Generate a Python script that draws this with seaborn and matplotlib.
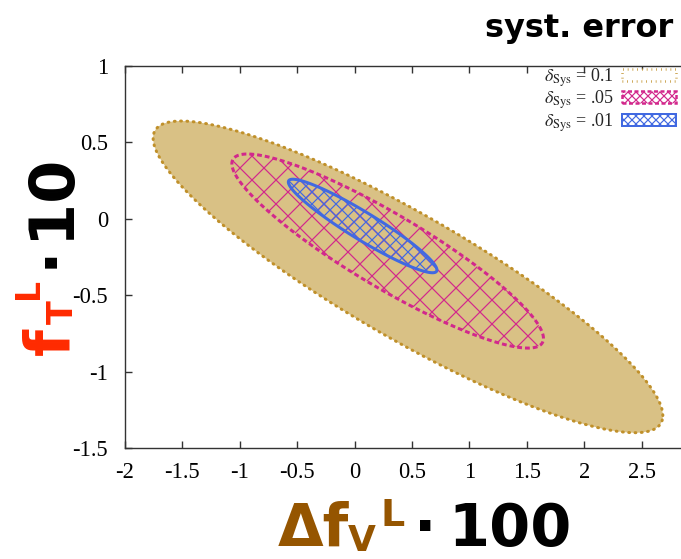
import numpy as np
import matplotlib
matplotlib.use("Agg")
import matplotlib.pyplot as plt
import seaborn as sns
from matplotlib.patches import Patch

# ellipse shapes (centre, half extent in x / y, tilt as correlation)
sys_labels = ['0.1', '.05', '.01']
center_x = [0.465, 0.288, 0.07]
center_y = [-0.38, -0.211, -0.047]
half_x = [2.22, 1.357, 0.647]
half_y = [1.02, 0.635, 0.306]
corr = [-0.89, -0.90, -0.94]

x_ticks = [-2, -1.5, -1, -0.5, 0, 0.5, 1, 1.5, 2, 2.5]
x_ticklabels = ['-2', '-1.5', '-1', '-0.5', '0', '0.5', '1', '1.5', '2', '2.5']
y_ticks = [-1.5, -1, -0.5, 0, 0.5, 1]
y_ticklabels = ['-1.5', '-1', '-0.5', '0', '0.5', '1']

tan = '#d9c185'
gold = '#c0902a'
pink = '#d2288c'
blue = '#4169e1'
brown = '#955500'
red = '#ff2a00'

# dpi 72 so that 1 pt == 1 px and the hatch tile is 72 px
W, H, DPI = 681, 559, 72

sns.set_theme(style='ticks')
plt.rcParams['font.family'] = ['Liberation Serif', 'DejaVu Serif']
plt.rcParams['hatch.linewidth'] = 1.2

fig = plt.figure(figsize=(W / DPI, H / DPI), dpi=DPI)
# the plot box runs on past the right edge of the picture (x = 3)
ax = fig.add_axes([125 / W, 111 / H, 574 / W, 382 / H])

t = np.linspace(0, 2 * np.pi, 400)


def ellipse(i):
    ex = center_x[i] + half_x[i] * np.cos(t)
    ey = center_y[i] + half_y[i] * (corr[i] * np.cos(t) + np.sqrt(1 - corr[i] ** 2) * np.sin(t))
    return ex, ey


# delta_sys = 0.1 : filled, dotted border
ex, ey = ellipse(0)
ax.fill(ex, ey, facecolor=tan, edgecolor='none', zorder=1)
sns.lineplot(x=ex, y=ey, sort=False, estimator=None, ax=ax, color=gold, lw=3,
             linestyle=(0, (0.3, 1.8)), dash_capstyle='round', zorder=2)

# delta_sys = .05 : cross hatch, dashed border
ex, ey = ellipse(1)
ax.fill(ex, ey, facecolor='none', edgecolor=pink, hatch='x', lw=3,
        linestyle=(0, (1.6, 1.0)), zorder=3)

# delta_sys = .01 : fine hatch, solid border
ex, ey = ellipse(2)
ax.fill(ex, ey, facecolor='none', edgecolor=blue, hatch='xx', lw=3, zorder=4)

ax.set_xlim(-2, 3)
ax.set_ylim(-1.5, 1)
ax.set_xticks(x_ticks)
ax.set_xticklabels(x_ticklabels)
ax.set_yticks(y_ticks)
ax.set_yticklabels(y_ticklabels)
ax.tick_params(direction='in', length=7, width=1.4, top=True, right=True,
               color='#333333', labelsize=22.5, labelcolor='black')
ax.tick_params(axis='x', pad=14)
ax.tick_params(axis='y', pad=17)
for s in ax.spines.values():
    s.set_color('#333333')
    s.set_linewidth(1.4)

# legend, gnuplot style (sample on the right)
handles = [
    Patch(facecolor='white', edgecolor=gold, lw=2.5, linestyle=(0, (0.3, 1.6)), capstyle='round'),
    Patch(facecolor='white', edgecolor=pink, lw=2.5, linestyle=(0, (1.6, 1.0)), hatch='xxx'),
    Patch(facecolor='white', edgecolor=blue, lw=2, hatch='xxx'),
]
labels = [r'$\delta_{\rm Sys}$ = ' + s for s in sys_labels]
leg = ax.legend(handles, labels, loc='upper right', bbox_to_anchor=(676 / W, 1 - 66 / H),
                bbox_transform=fig.transFigure, frameon=False, markerfirst=False,
                fontsize=18, handlelength=3.0, handleheight=0.65, labelspacing=0.0,
                handletextpad=0.45, borderpad=0, borderaxespad=0)
for txt in leg.get_texts():
    txt.set_math_fontfamily('stix')

bold = dict(fontweight='bold', family='DejaVu Sans')


def put(x, y, s, size, color, **kw):
    # x, y in picture pixels from the top-left, anchored at the text baseline
    fig.text(x / W, 1 - y / H, s, fontsize=size, color=color, va='baseline',
             rotation_mode='anchor', **bold, **kw)


# title
put(673, 37, 'syst. error', 32, 'black', ha='right')

# x label:  Δf_V^L · 100
put(278, 546, 'Δf', 59, brown, ha='left')
put(348, 551, 'V', 36, brown, ha='left')
put(381, 526, 'L', 38, brown, ha='left')
put(425, 546, '·', 59, 'black', ha='center')
put(572, 546, '100', 59, 'black', ha='right')

# y label:  f_T^L · 10  (reads upwards)
put(68, 355, 'f', 62, red, ha='left', rotation=90)
put(73, 324, 'T', 35, red, ha='left', rotation=90)
put(38, 299, 'L', 33, red, ha='left', rotation=90)
put(68, 256, '·', 62, 'black', ha='center', rotation=90)
put(68, 153, '10', 62, 'black', ha='right', rotation=90)

fig.savefig('out.png', dpi=DPI)
